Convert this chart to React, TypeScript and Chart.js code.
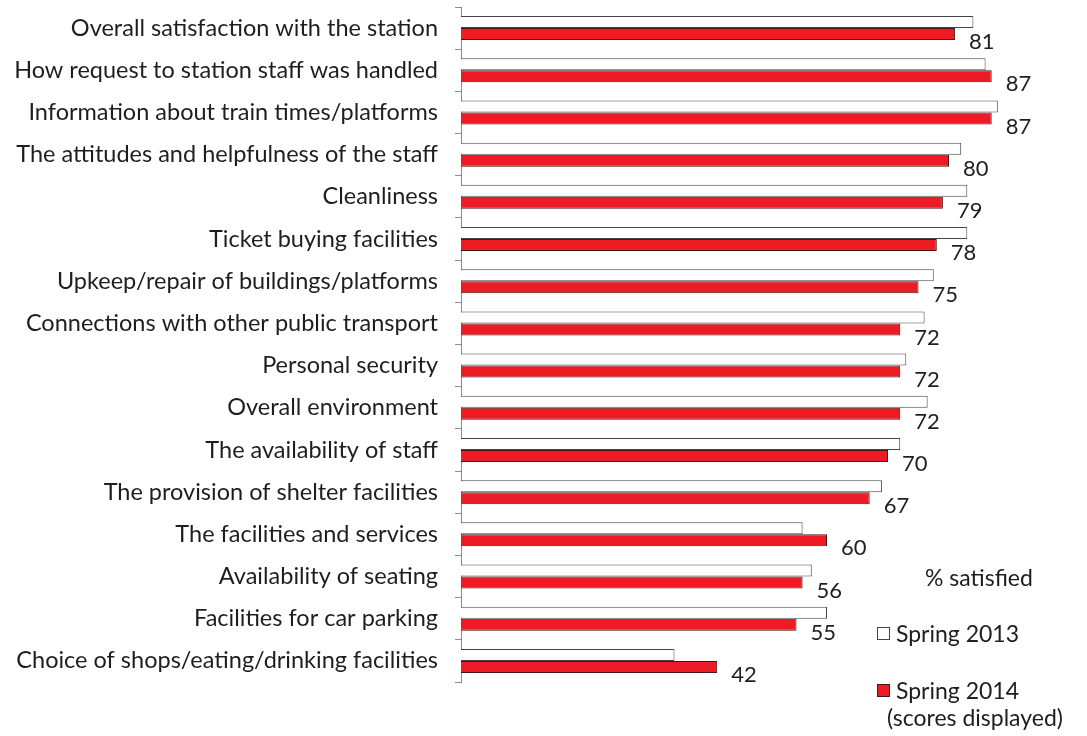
import React, { useEffect, useRef } from "react";
import { Chart, registerables } from "chart.js";

Chart.register(...registerables);

const categories = [
  "Overall satisfaction with the station",
  "How request to station staff was handled",
  "Information about train times/platforms",
  "The attitudes and helpfulness of the staff",
  "Cleanliness",
  "Ticket buying facilities",
  "Upkeep/repair of buildings/platforms",
  "Connections with other public transport",
  "Personal security",
  "Overall environment",
  "The availability of staff",
  "The provision of shelter facilities",
  "The facilities and services",
  "Availability of seating",
  "Facilities for car parking",
  "Choice of shops/eating/drinking facilities",
];

const spring2013 = [84, 86, 88, 82, 83, 83, 77.5, 76, 73, 76.5, 72, 69, 56, 57.5, 60, 35];
const spring2014 = [81, 87, 87, 80, 79, 78, 75, 72, 72, 72, 70, 67, 60, 56, 55, 42];

const seriesNames = ["Spring 2013", "Spring 2014"];
const legendTitle = "% satisfied";
const legendNote = "(scores displayed)";

const FONT = "Lato, 'Open Sans', sans-serif";
const TEXT = "#1e1e1e";
const RED = "#ED1C24";
const RED_BORDER = "#4a1515";
const WHITE_BORDER = "#454545";

const overlayPlugin = {
  id: "overlay",
  afterDatasetsDraw(chart: any) {
    const ctx = chart.ctx as CanvasRenderingContext2D;
    const meta = chart.getDatasetMeta(1);
    ctx.save();
    ctx.font = `22px ${FONT}`;
    ctx.fillStyle = TEXT;
    ctx.textAlign = "left";
    ctx.textBaseline = "middle";
    meta.data.forEach((bar: any, i: number) => {
      ctx.fillText(String(spring2014[i]), bar.x + 14, bar.y + 8);
    });

    // legend
    ctx.font = `23px ${FONT}`;
    ctx.fillText(legendTitle, 925, 579);
    ctx.lineWidth = 1;
    ctx.fillStyle = "#ffffff";
    ctx.strokeStyle = WHITE_BORDER;
    ctx.fillRect(877.5, 627.5, 12, 12);
    ctx.strokeRect(877.5, 627.5, 12, 12);
    ctx.fillStyle = RED;
    ctx.strokeStyle = RED_BORDER;
    ctx.fillRect(877.5, 684.5, 12, 12);
    ctx.strokeRect(877.5, 684.5, 12, 12);
    ctx.fillStyle = TEXT;
    ctx.fillText(seriesNames[0], 896, 635);
    ctx.fillText(seriesNames[1], 896, 692);
    ctx.fillText(legendNote, 887, 719);
    ctx.restore();
  },
};

export default function App() {
  const ref = useRef<HTMLCanvasElement | null>(null);
  useEffect(() => {
    if (!ref.current) return;
    const chart = new Chart(ref.current, {
      type: "bar",
      data: {
        labels: categories,
        datasets: [
          {
            label: seriesNames[0],
            data: spring2013,
            backgroundColor: "#ffffff",
            borderColor: WHITE_BORDER,
            borderWidth: 1,
            categoryPercentage: 0.57,
            barPercentage: 1,
          },
          {
            label: seriesNames[1],
            data: spring2014,
            backgroundColor: RED,
            borderColor: RED_BORDER,
            borderWidth: 1,
            categoryPercentage: 0.57,
            barPercentage: 1,
          },
        ],
      },
      options: {
        indexAxis: "y",
        animation: false,
        responsive: false,
        events: [],
        layout: { padding: { top: 7, bottom: 54, right: 16, left: 0 } },
        plugins: { legend: { display: false }, tooltip: { enabled: false } },
        scales: {
          x: { display: false, min: 0, max: 100 },
          y: {
            grid: { drawOnChartArea: false, tickLength: 6, color: "#8c8c8c", offset: true },
            border: { color: "#8c8c8c" },
            ticks: {
              autoSkip: false,
              padding: 17,
              color: TEXT,
              font: { family: FONT, size: 23.5 },
            },
            afterFit(scale: any) {
              scale.width = 461;
              scale.paddingTop = 0;
              scale.paddingBottom = 0;
            },
          },
        },
      },
      plugins: [overlayPlugin],
    });
    return () => chart.destroy();
  }, []);
  return (
    <div style={{ position: "absolute", left: 0, top: 0, width: 1087, height: 736, background: "#fff" }}>
      <canvas ref={ref} width={1087} height={736} style={{ display: "block" }} />
    </div>
  );
}
